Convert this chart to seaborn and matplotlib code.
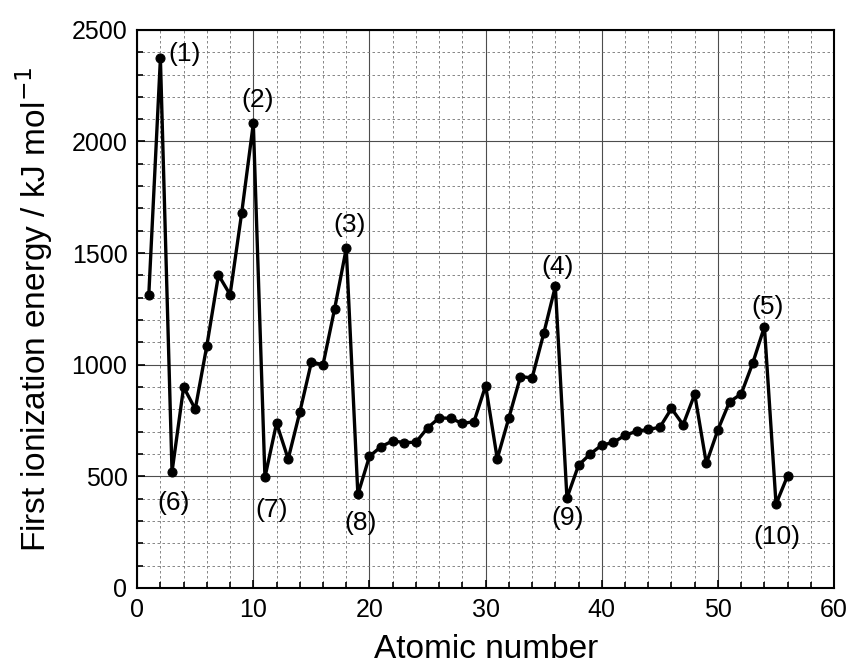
import numpy as np
import pandas as pd
import matplotlib.pyplot as plt
import seaborn as sns
from matplotlib.ticker import MultipleLocator

# first ionization energies, Z = 1..56 (kJ/mol)
atomic_number = list(range(1, 57))
energy = [1312, 2372, 520, 900, 801, 1086, 1402, 1314, 1681, 2081,
          496, 738, 578, 787, 1012, 1000, 1251, 1521, 419, 590,
          633, 659, 651, 653, 717, 762, 760, 737, 745, 906,
          579, 762, 947, 941, 1140, 1351, 403, 550, 600, 640,
          652, 684, 702, 710, 720, 804, 731, 868, 558, 709,
          834, 869, 1008, 1170, 376, 503]

# label text and where it sits (data coordinates)
label_text = ["(1)", "(2)", "(3)", "(4)", "(5)", "(6)", "(7)", "(8)", "(9)", "(10)"]
label_x = [4.1, 10.4, 18.3, 36.2, 54.3, 3.1, 11.6, 19.2, 37.1, 55.1]
label_y = [2394, 2186, 1626, 1438, 1259, 381, 349, 291, 314, 228]

df = pd.DataFrame({"Z": atomic_number, "IE": energy})

sns.set_style("ticks")
plt.rcParams['font.family'] = ['Liberation Sans', 'DejaVu Sans']
plt.rcParams['text.color'] = 'black'
plt.rcParams['axes.labelcolor'] = 'black'
plt.rcParams['xtick.color'] = 'black'
plt.rcParams['ytick.color'] = 'black'

fig = plt.figure(figsize=(8.52, 6.64), dpi=100)
ax = fig.add_axes([0.161, 0.1145, 0.818, 0.8405])

# grid, a bit like the scanned graph paper
ax.xaxis.set_major_locator(MultipleLocator(10))
ax.xaxis.set_minor_locator(MultipleLocator(2))
ax.yaxis.set_major_locator(MultipleLocator(500))
ax.yaxis.set_minor_locator(MultipleLocator(100))
ax.grid(which='minor', color='0.45', linestyle=(0, (3, 3)), linewidth=0.6)
ax.grid(which='major', color='0.3', linestyle='-', linewidth=0.8)
ax.set_axisbelow(True)

sns.lineplot(data=df, x="Z", y="IE", ax=ax, color='black', linewidth=2.4,
             marker='o', markersize=6.5, markeredgecolor='black')

for t, x, y in zip(label_text, label_x, label_y):
    ax.text(x, y, t, fontsize=19, ha='center', va='center', color='black')

ax.set_xlim(0, 60)
ax.set_ylim(0, 2500)
ax.set_xlabel("Atomic number", fontsize=24, labelpad=9)
ax.set_ylabel("First ionization energy / kJ mol$^{-1}$", fontsize=24, labelpad=12)
ax.tick_params(which='both', direction='in', labelsize=18, width=1.2)
ax.tick_params(which='major', length=6, pad=7)
ax.tick_params(which='minor', length=4)
for s in ax.spines.values():
    s.set_linewidth(1.5)
    s.set_color('black')

fig.savefig("out.png", dpi=100)
